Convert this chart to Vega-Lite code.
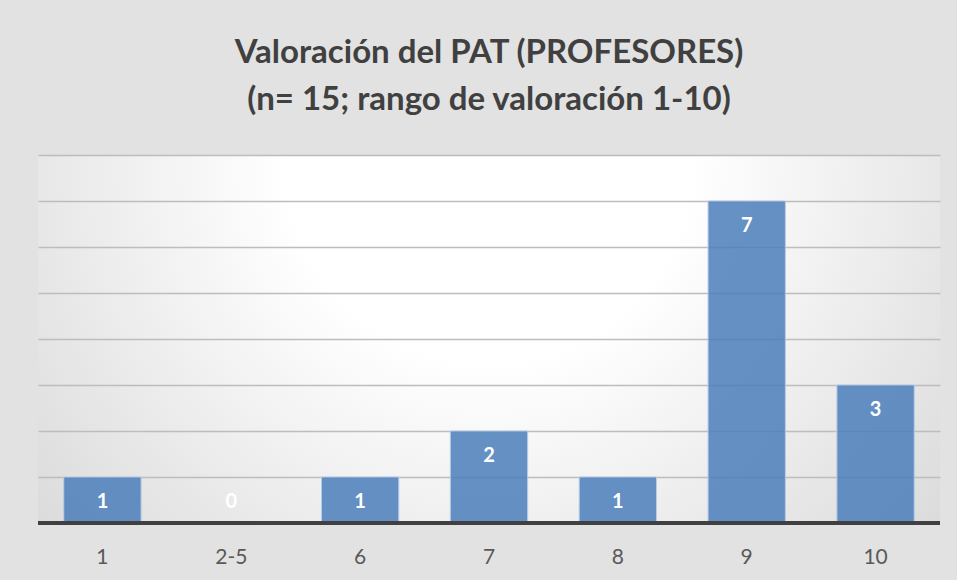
{
  "$schema": "https://vega.github.io/schema/vega-lite/v6.json",
  "width": 902,
  "height": 368,
  "autosize": "none",
  "padding": {"left": 38, "top": 155, "right": 17, "bottom": 57},
  "background": "#e2e2e2",
  "title": {
    "text": ["Valoración del PAT (PROFESORES)", "(n= 15; rango de valoración 1-10)"],
    "font": "Lato",
    "fontSize": 33,
    "fontWeight": "bold",
    "color": "#404040",
    "anchor": "middle",
    "lineHeight": 47,
    "offset": 38
  },
  "config": {
    "view": {
      "stroke": null,
      "fill": {
        "gradient": "radial",
        "x1": 0.5, "y1": 0.3, "r1": 0,
        "x2": 0.5, "y2": 0.3, "r2": 0.75,
        "stops": [
          {"offset": 0, "color": "#ffffff"},
          {"offset": 0.3, "color": "#ffffff"},
          {"offset": 1, "color": "#d2d2d2"}
        ]
      }
    }
  },
  "data": {
    "values": [
      {"cat": "1", "v": 1},
      {"cat": "2-5", "v": 0},
      {"cat": "6", "v": 1},
      {"cat": "7", "v": 2},
      {"cat": "8", "v": 1},
      {"cat": "9", "v": 7},
      {"cat": "10", "v": 3}
    ]
  },
  "layer": [
    {
      "transform": [{"filter": "datum.v > 0"}],
      "mark": {"type": "bar", "fill": "#4a7ebb", "fillOpacity": 0.85, "stroke": "#b8cce8", "strokeWidth": 1},
      "encoding": {
        "x": {
          "field": "cat",
          "type": "nominal",
          "sort": ["1", "2-5", "6", "7", "8", "9", "10"],
          "scale": {"domain": ["1", "2-5", "6", "7", "8", "9", "10"], "paddingInner": 0.4, "paddingOuter": 0.2},
          "axis": {
            "title": null,
            "labelAngle": 0,
            "labelFont": "Lato",
            "labelFontSize": 21,
            "labelColor": "#595959",
            "labelPadding": 23,
            "domain": false,
            "ticks": false
          }
        },
        "y": {
          "field": "v",
          "type": "quantitative",
          "scale": {"domain": [0, 8], "nice": false},
          "axis": {
            "title": null,
            "labels": false,
            "ticks": false,
            "domain": false,
            "values": [1, 2, 3, 4, 5, 6, 7, 8],
            "gridColor": "#bdbdbd",
            "gridWidth": 1.5
          }
        }
      }
    },
    {
      "mark": {"type": "rule", "stroke": "#404040", "strokeWidth": 3.5},
      "encoding": {"y": {"datum": 0}}
    },
    {
      "transform": [{"calculate": "max(datum.v, 1)", "as": "lab"}],
      "mark": {"type": "text", "font": "Lato", "fontSize": 20, "fontWeight": "bold", "color": "#ffffff", "baseline": "middle", "dy": 25},
      "encoding": {
        "x": {"field": "cat", "type": "nominal", "sort": ["1", "2-5", "6", "7", "8", "9", "10"]},
        "y": {"field": "lab", "type": "quantitative"},
        "text": {"field": "v", "type": "quantitative"}
      }
    }
  ]
}
